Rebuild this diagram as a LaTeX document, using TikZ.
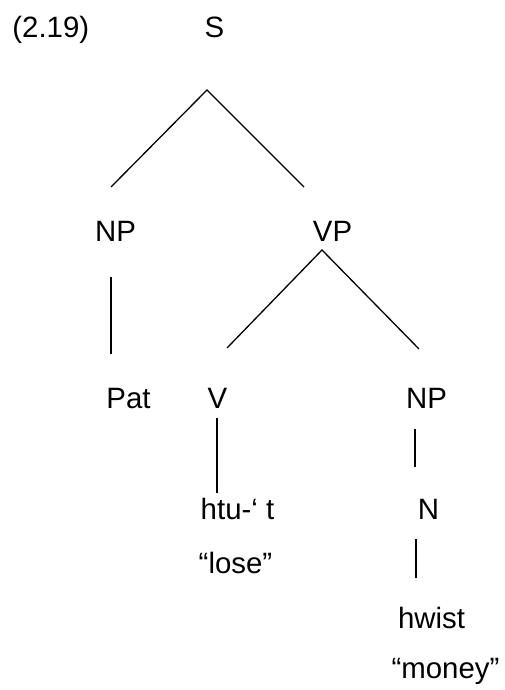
\documentclass[tikz,border=0pt]{standalone}
\usepackage{fontspec}
\setmainfont{Liberation Sans}
\usetikzlibrary{positioning}

\begin{document}
\begin{tikzpicture}[
    x=0.5pt, y=-0.5pt,
    every node/.style={font=\fontsize{14.7}{17}\selectfont, inner sep=0pt, anchor=base}, % 统一字体
    branch/.style={black, line width=0.65pt} % 树枝线
]
    \useasboundingbox (0,0) rectangle (504,690);

    % 1. 节点标签
    \node[anchor=base west] (ex) at (12,38) {(2.19)};
    \node (s)   at (214.5,38)  {S};
    \node (np1) at (115.5,241) {NP};
    \node (vp)  at (332.5,241) {VP};
    \node (pat) at (128.5,408) {Pat};
    \node (v)   at (217.5,408) {V};
    \node (np2) at (426.5,408) {NP};
    \node (htut) at (237.5,519) {htu-‘ t};
    \node (lose) at (235.5,573) {“lose”};
    \node (n)   at (428.5,519) {N};
    \node (hwist) at (431.5,628) {hwist};
    \node (money) at (445.5,678) {“money”};

    % 2. 树枝端点
    \coordinate (s-top)  at (207,90);
    \coordinate (s-l)    at (111,187);
    \coordinate (s-r)    at (304,187);
    \coordinate (np1-t)  at (111,277);
    \coordinate (np1-b)  at (111,354);
    \coordinate (vp-top) at (322,250);
    \coordinate (vp-l)   at (227,348);
    \coordinate (vp-r)   at (419,349);
    \coordinate (v-t)    at (217,418);
    \coordinate (v-b)    at (217,493);
    \coordinate (np2-t)  at (415,429);
    \coordinate (np2-b)  at (415,467);
    \coordinate (n-t)    at (416,539);
    \coordinate (n-b)    at (416,578);

    % 3. 连线
    \draw[branch] (s-l) -- (s-top) -- (s-r);
    \draw[branch] (np1-t) -- (np1-b);
    \draw[branch] (vp-l) -- (vp-top) -- (vp-r);
    \draw[branch] (v-t) -- (v-b);
    \draw[branch] (np2-t) -- (np2-b);
    \draw[branch] (n-t) -- (n-b);
\end{tikzpicture}
\end{document}
